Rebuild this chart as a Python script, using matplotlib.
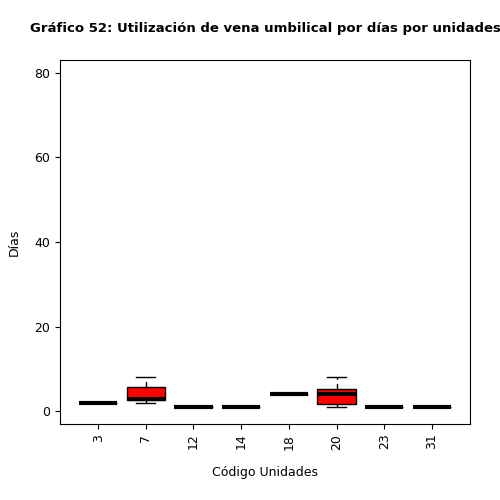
import matplotlib
matplotlib.use("Agg")
import matplotlib.pyplot as plt

unidades = ["3", "7", "12", "14", "18", "20", "23", "31"]
q1 = [2, 2.6, 1, 1, 4, 1.8, 1, 1]
med = [2, 2.8, 1, 1, 4, 4, 1, 1]
q3 = [2, 5.8, 1, 1, 4, 5.3, 1, 1]
whislo = [2, 2, 1, 1, 4, 1, 1, 1]
whishi = [2, 8, 1, 1, 4, 8, 1, 1]

stats = []
for i, u in enumerate(unidades):
    stats.append(dict(label=u, q1=q1[i], med=med[i], q3=q3[i],
                      whislo=whislo[i], whishi=whishi[i], fliers=[]))

fig = plt.figure(figsize=(5, 5), dpi=100)
ax = fig.add_axes([0.12, 0.152, 0.82, 0.728])
ax.bxp(stats, widths=0.8, patch_artist=True,
       boxprops=dict(facecolor="red", edgecolor="black", linewidth=1),
       medianprops=dict(color="black", linewidth=3),
       whiskerprops=dict(color="black", linestyle=(0, (4, 3)), linewidth=1),
       capprops=dict(color="black", linewidth=1), capwidths=0.4)
ax.set_xlim(0.2, 8.8)
ax.set_ylim(-3, 83)
ax.set_yticks([0, 20, 40, 60, 80])
ax.set_xticklabels(unidades, rotation=90)
ax.tick_params(labelsize=9)
ax.set_xlabel("Código Unidades", fontsize=9, labelpad=12)
ax.set_ylabel("Días", fontsize=9, labelpad=10)
ax.set_title("Gráfico 52: Utilización de vena umbilical por días por unidades",
             fontsize=9.5, fontweight="bold", pad=20)
fig.savefig("out.png")
